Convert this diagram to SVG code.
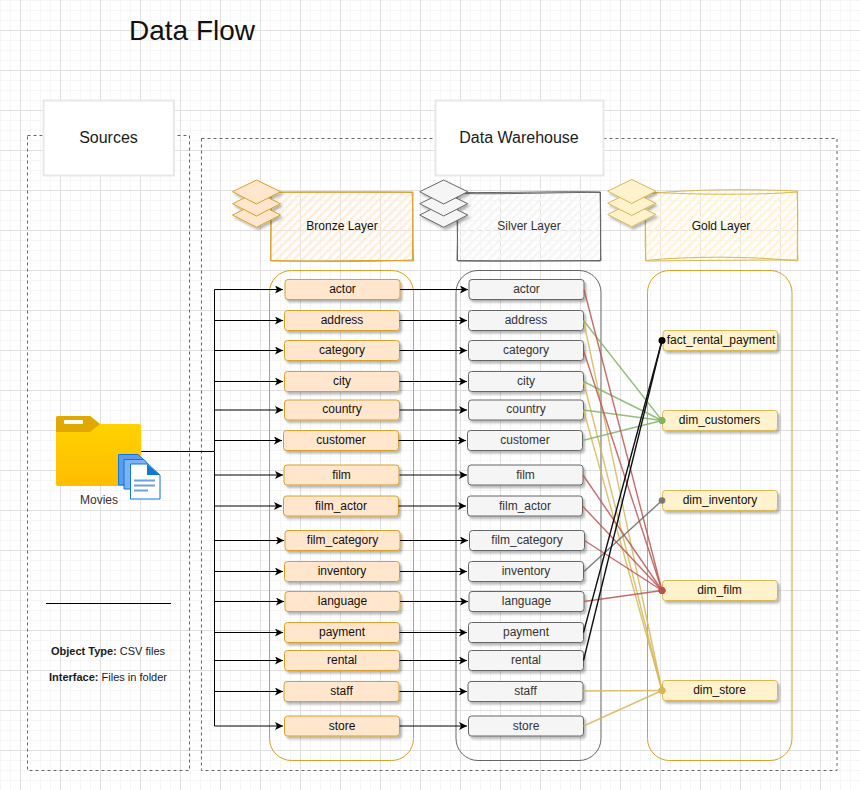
<svg xmlns="http://www.w3.org/2000/svg" width="860" height="790" viewBox="0 0 860 790">
<style>
text{font-family:"Liberation Sans",Arial,sans-serif;font-size:12px;text-anchor:middle;fill:#111}
.b rect{fill:#ffe6cc;stroke:#d6a02a;stroke-width:1}
.s rect{fill:#f5f5f5;stroke:#666;stroke-width:1}
.s text{fill:#333}
.g rect{fill:#fff2cc;stroke:#d6b656;stroke-width:1}
.cont{fill:none;stroke-width:1}
.dash{fill:none;stroke:#666;stroke-width:1;stroke-dasharray:3 3}
.title rect{fill:#fff;stroke:#e8e8e8;stroke-width:2}
.title text{font-size:16px;fill:#1a1a1a}
.flow path{fill:none;stroke:#000;stroke-width:1;marker-end:url(#arr)}
.link path{fill:none;stroke-width:1.4}
.r{stroke:#b85450;marker-end:url(#dr);opacity:.85}
.gr{stroke:#82b366;marker-end:url(#dg);opacity:.85}
.y{stroke:#d6b656;marker-end:url(#dy);opacity:.85}
.k{stroke:#111;marker-end:url(#dk)}
.n{stroke:#666;marker-end:url(#dn);opacity:.85}
</style>
<defs>
<pattern id="grid" width="40" height="40" patternUnits="userSpaceOnUse" x="-20" y="-10">
<path d="M0 10.5H40M0 20.5H40M0 30.5H40M10.5 0V40M20.5 0V40M30.5 0V40" stroke="#f6f6f6" stroke-width="1" fill="none"/>
<path d="M0 .5H40M.5 0V40" stroke="#e0e0e0" stroke-width="1" fill="none"/>
</pattern>
<pattern id="hb" width="6" height="6" patternUnits="userSpaceOnUse" patternTransform="rotate(45)"><rect width="2.4" height="6" fill="#ffe6cc" opacity=".75"/></pattern>
<pattern id="hs" width="6" height="6" patternUnits="userSpaceOnUse" patternTransform="rotate(45)"><rect width="2.4" height="6" fill="#f5f5f5"/></pattern>
<pattern id="hg" width="6" height="6" patternUnits="userSpaceOnUse" patternTransform="rotate(45)"><rect width="2.4" height="6" fill="#fff2cc" opacity=".85"/></pattern>
<filter id="sh" x="-15%" y="-25%" width="130%" height="160%"><feDropShadow dx="2" dy="2.5" stdDeviation="1.3" flood-color="#000" flood-opacity=".28"/></filter>
<marker id="arr" markerUnits="userSpaceOnUse" markerWidth="10" markerHeight="10" refX="8" refY="4" orient="auto"><path d="M0 0L8 4L0 8L2 4Z" fill="#000"/></marker>
<marker id="dr" markerUnits="userSpaceOnUse" markerWidth="8" markerHeight="8" refX="4" refY="4"><circle cx="4" cy="4" r="3.3" fill="#b85450"/></marker>
<marker id="dg" markerUnits="userSpaceOnUse" markerWidth="8" markerHeight="8" refX="4" refY="4"><circle cx="4" cy="4" r="3.3" fill="#82b366"/></marker>
<marker id="dy" markerUnits="userSpaceOnUse" markerWidth="8" markerHeight="8" refX="4" refY="4"><circle cx="4" cy="4" r="3.3" fill="#d6b656"/></marker>
<marker id="dk" markerUnits="userSpaceOnUse" markerWidth="8" markerHeight="8" refX="4" refY="4"><circle cx="4" cy="4" r="3.3" fill="#000"/></marker>
<marker id="dn" markerUnits="userSpaceOnUse" markerWidth="8" markerHeight="8" refX="4" refY="4"><circle cx="4" cy="4" r="3.3" fill="#666"/></marker>
<linearGradient id="fold" x1="0" y1="0" x2="0" y2="1"><stop offset="0" stop-color="#ffd500"/><stop offset="1" stop-color="#ffbd00"/></linearGradient>
</defs>
<rect width="860" height="790" fill="#fff"/>
<rect width="860" height="790" fill="url(#grid)"/>

<text x="192" y="40" style="font-size:28px">Data Flow</text>

<rect id="sources-area" class="dash" x="27.5" y="135.5" width="162" height="635"/>
<rect id="warehouse-area" class="dash" x="201.5" y="138.5" width="635.5" height="632"/>
<g id="sources-title" class="title"><rect x="43.5" y="100.5" width="130.5" height="75"/><text x="108.5" y="143">Sources</text></g>
<g id="warehouse-title" class="title"><rect x="435.5" y="100.5" width="168" height="75"/><text x="519" y="143">Data Warehouse</text></g>

<g id="bronze-layer">
<rect x="271" y="192" width="142" height="69" fill="url(#hb)"/>
<path d="M271 192.5C320 191 370 193 413 192C412.5 215 413 240 413.5 261C370 259.5 320 262 270.5 260.500C271.500 240 270.500 215 271 192.500Z" fill="none" stroke="#d6a02a" stroke-width="1"/>
<path d="M272 192C330 193 380 191 412 192.500C414 220 412 245 412.500 260C360 262.500 310 261 271 261C270 235 272 215 270.500 193" fill="none" stroke="#d6a02a" stroke-width="1"/>
<text x="342" y="229.500">Bronze Layer</text>
<g fill="#ffe6cc" stroke="#d6a02a" filter="url(#sh)">
<path d="M256.500 203L280.500 215L256.500 227.300L232.500 215Z"/>
<path d="M256.500 192L280.500 203.700L256.500 216L232.500 203.700Z"/>
<path d="M256.500 180L280.500 191.700L256.500 204L232.500 191.700Z"/>
</g></g>

<g id="silver-layer">
<rect x="457" y="192" width="143.500" height="69" fill="url(#hs)"/>
<path d="M457 192.500C510 193 560 191 600.500 192C600 215 601 240 600.500 261C550 260.500 500 261.500 457.500 261C458 240 456.500 215 457 192.500Z" fill="none" stroke="#666" stroke-width="1"/>
<path d="M458 193.500C510 194.500 570 192 600 192.500C601.500 220 600 245 601 260.500C540 261 500 261 457 260.500C457.500 235 458 215 457.500 193" fill="none" stroke="#666" stroke-width="1"/>
<text x="529" y="229.500" style="fill:#333">Silver Layer</text>
<g fill="#f5f5f5" stroke="#666" filter="url(#sh)">
<path d="M443.700 203L467.700 215L443.700 227.300L419.700 215Z"/>
<path d="M443.700 192L467.700 203.700L443.700 216L419.700 203.700Z"/>
<path d="M443.700 180L467.700 191.700L443.700 204L419.700 191.700Z"/>
</g></g>

<g id="gold-layer">
<rect x="645" y="191" width="152.500" height="70" fill="url(#hg)"/>
<path d="M645 194C690 189 750 189 797.500 191C798 215 797 240 797.500 261C750 256 690 256 645.500 260.500C646.500 240 644.500 215 645 194Z" fill="none" stroke="#d6b656" stroke-width="1"/>
<path d="M646 192C700 195 760 195 797 192C798.500 220 797 245 798 260C750 260 700 260.500 646 261C644 235 646.500 215 645 193" fill="none" stroke="#d6b656" stroke-width="1"/>
<text x="721" y="229.500">Gold Layer</text>
<g fill="#fff2cc" stroke="#d6b656" filter="url(#sh)">
<path d="M631.700 202.500L655.700 214.500L631.700 226.800L607.700 214.500Z"/>
<path d="M631.700 191.500L655.700 203.200L631.700 215.500L607.700 203.200Z"/>
<path d="M631.700 179.500L655.700 191.200L631.700 203.500L607.700 191.200Z"/>
</g></g>

<rect id="bronze-container" class="cont" x="269.500" y="270.500" width="144" height="490" rx="22" stroke="#d6a02a"/>
<rect id="silver-container" class="cont" x="456" y="270.500" width="145" height="490" rx="22" stroke="#666"/>
<rect id="gold-container" class="cont" x="647.500" y="270.500" width="144.500" height="490" rx="22" stroke="#d6a02a"/>

<line id="divider" x1="46" y1="603.500" x2="171" y2="603.500" stroke="#000"/>
<g id="source-info">
<text x="108" y="655" style="font-size:11px;fill:#1a1a1a"><tspan font-weight="bold">Object Type:</tspan> CSV files</text>
<text x="108" y="681" style="font-size:11px;fill:#1a1a1a"><tspan font-weight="bold">Interface:</tspan> Files in folder</text>
</g>

<g id="b-actor" class="b"><rect x="285" y="279.500" width="115" height="20" rx="3" filter="url(#sh)"/><text x="342.500" y="293">actor</text></g>
<g id="b-address" class="b"><rect x="284.500" y="310.500" width="115" height="20" rx="3" filter="url(#sh)"/><text x="342" y="324">address</text></g>
<g id="b-category" class="b"><rect x="284.500" y="340.500" width="115" height="20" rx="3" filter="url(#sh)"/><text x="342" y="354">category</text></g>
<g id="b-city" class="b"><rect x="284.500" y="371.500" width="115" height="20" rx="3" filter="url(#sh)"/><text x="342" y="385">city</text></g>
<g id="b-country" class="b"><rect x="284.500" y="400" width="115" height="20" rx="3" filter="url(#sh)"/><text x="342" y="413">country</text></g>
<g id="b-customer" class="b"><rect x="283.500" y="430.500" width="115" height="20" rx="3" filter="url(#sh)"/><text x="341" y="444">customer</text></g>
<g id="b-film" class="b"><rect x="284" y="465" width="115" height="20" rx="3" filter="url(#sh)"/><text x="341.500" y="478.500">film</text></g>
<g id="b-film_actor" class="b"><rect x="283.500" y="496" width="115" height="20" rx="3" filter="url(#sh)"/><text x="341" y="509.500">film_actor</text></g>
<g id="b-film_category" class="b"><rect x="285" y="530.500" width="115" height="20" rx="3" filter="url(#sh)"/><text x="342.500" y="544">film_category</text></g>
<g id="b-inventory" class="b"><rect x="284.500" y="561.500" width="115" height="20" rx="3" filter="url(#sh)"/><text x="342" y="575">inventory</text></g>
<g id="b-language" class="b"><rect x="285" y="591.500" width="115" height="20" rx="3" filter="url(#sh)"/><text x="342.500" y="605">language</text></g>
<g id="b-payment" class="b"><rect x="284.500" y="622.500" width="115" height="20" rx="3" filter="url(#sh)"/><text x="342" y="636">payment</text></g>
<g id="b-rental" class="b"><rect x="284.500" y="650.500" width="115" height="20" rx="3" filter="url(#sh)"/><text x="342" y="664">rental</text></g>
<g id="b-staff" class="b"><rect x="284" y="681.500" width="115" height="20" rx="3" filter="url(#sh)"/><text x="341.500" y="695">staff</text></g>
<g id="b-store" class="b"><rect x="284.500" y="716" width="115" height="20" rx="3" filter="url(#sh)"/><text x="342" y="729.500">store</text></g>

<g id="s-actor" class="s"><rect x="469" y="279.500" width="115" height="20" rx="3" filter="url(#sh)"/><text x="526.500" y="293">actor</text></g>
<g id="s-address" class="s"><rect x="468.500" y="310.500" width="115" height="20" rx="3" filter="url(#sh)"/><text x="526" y="324">address</text></g>
<g id="s-category" class="s"><rect x="468.500" y="340.500" width="115" height="20" rx="3" filter="url(#sh)"/><text x="526" y="354">category</text></g>
<g id="s-city" class="s"><rect x="468.500" y="371.500" width="115" height="20" rx="3" filter="url(#sh)"/><text x="526" y="385">city</text></g>
<g id="s-country" class="s"><rect x="468.500" y="400" width="115" height="20" rx="3" filter="url(#sh)"/><text x="526" y="413">country</text></g>
<g id="s-customer" class="s"><rect x="467.500" y="430.500" width="115" height="20" rx="3" filter="url(#sh)"/><text x="525" y="444">customer</text></g>
<g id="s-film" class="s"><rect x="468" y="465" width="115" height="20" rx="3" filter="url(#sh)"/><text x="525.500" y="478.500">film</text></g>
<g id="s-film_actor" class="s"><rect x="467.500" y="496" width="115" height="20" rx="3" filter="url(#sh)"/><text x="525" y="509.500">film_actor</text></g>
<g id="s-film_category" class="s"><rect x="469.500" y="530.500" width="115" height="20" rx="3" filter="url(#sh)"/><text x="527" y="544">film_category</text></g>
<g id="s-inventory" class="s"><rect x="468.500" y="561.500" width="115" height="20" rx="3" filter="url(#sh)"/><text x="526" y="575">inventory</text></g>
<g id="s-language" class="s"><rect x="469" y="591.500" width="115" height="20" rx="3" filter="url(#sh)"/><text x="526.500" y="605">language</text></g>
<g id="s-payment" class="s"><rect x="468.500" y="622.500" width="115" height="20" rx="3" filter="url(#sh)"/><text x="526" y="636">payment</text></g>
<g id="s-rental" class="s"><rect x="468.500" y="650.500" width="115" height="20" rx="3" filter="url(#sh)"/><text x="526" y="664">rental</text></g>
<g id="s-staff" class="s"><rect x="468" y="681.500" width="115" height="20" rx="3" filter="url(#sh)"/><text x="525.500" y="695">staff</text></g>
<g id="s-store" class="s"><rect x="468.500" y="716" width="115" height="20" rx="3" filter="url(#sh)"/><text x="526" y="729.500">store</text></g>

<g id="g-fact_rental_payment" class="g"><rect x="663" y="330.500" width="114.500" height="20" rx="3" filter="url(#sh)"/><text x="721" y="344">fact_rental_payment</text></g>
<g id="g-dim_customers" class="g"><rect x="662.500" y="410.500" width="115" height="20" rx="3" filter="url(#sh)"/><text x="719.500" y="424">dim_customers</text></g>
<g id="g-dim_inventory" class="g"><rect x="662.500" y="490.500" width="115" height="20" rx="3" filter="url(#sh)"/><text x="720" y="504">dim_inventory</text></g>
<g id="g-dim_film" class="g"><rect x="662.500" y="580.500" width="115" height="20" rx="3" filter="url(#sh)"/><text x="719.500" y="594">dim_film</text></g>
<g id="g-dim_store" class="g"><rect x="662.500" y="680.500" width="115" height="20" rx="3" filter="url(#sh)"/><text x="719.500" y="694">dim_store</text></g>

<g id="connectors">
<g class="flow">
<path d="M141 451.500H214.500V289.500H283"/>
<path d="M214.500 320.500H283"/>
<path d="M214.500 350.500H283"/>
<path d="M214.500 381.500H283"/>
<path d="M214.500 410H283"/>
<path d="M214.500 440.500H282"/>
<path d="M214.500 475H283"/>
<path d="M214.500 506H282"/>
<path d="M214.500 540.500H284"/>
<path d="M214.500 571.500H283"/>
<path d="M214.500 601.500H284"/>
<path d="M214.500 632.500H283"/>
<path d="M214.500 660.500H283"/>
<path d="M214.500 691.500H283"/>
<path d="M214.500 451.500V726H283"/>
<path d="M400 289.500H468"/>
<path d="M399.500 320.500H467"/>
<path d="M399.500 350.500H467"/>
<path d="M399.500 381.500H467"/>
<path d="M399.500 410H467"/>
<path d="M398.500 440.500H466"/>
<path d="M399.500 475H467"/>
<path d="M398.500 506H466"/>
<path d="M400 540.500H468"/>
<path d="M400 571.500H467"/>
<path d="M400 601.500H468"/>
<path d="M399.500 632.500H467"/>
<path d="M399.500 660.500H467"/>
<path d="M399.500 691.500H467"/>
<path d="M399.500 726H467"/>
</g>
<g class="link">
<path class="y" d="M583.500 320.500L662 690.500"/>
<path class="y" d="M583.500 381.500L662 690.500"/>
<path class="y" d="M583.500 410L662 690.500"/>
<path class="y" d="M583 691L662 690.500"/>
<path class="y" d="M583.500 726L662 690.500"/>
<path class="gr" d="M583.500 320.500L662 420.500"/>
<path class="gr" d="M583.500 381.500L662 420.500"/>
<path class="gr" d="M583.500 410L662 420.500"/>
<path class="gr" d="M582.500 440.500L662 420.500"/>
<path class="r" d="M584 289.500L662 590.500"/>
<path class="r" d="M583.500 350.500L662 590.500"/>
<path class="r" d="M583 475L662 590.500"/>
<path class="r" d="M582.500 506L662 590.500"/>
<path class="r" d="M584.500 540.500L662 590.500"/>
<path class="r" d="M584 601.500L662 590.500"/>
<path class="n" d="M584 571.500L662 500.500"/>
<path class="k" d="M583.500 632.500L662 340.500"/>
<path class="k" d="M583.500 660.500L662 340.500"/>
</g>
</g>

<g id="movies">
<path d="M56 418Q56 416 58 416H90L100 424H139Q141.300 424 141.300 426V484Q141.300 486 139 486H58Q56 486 56 484Z" fill="url(#fold)"/>
<path d="M56 418Q56 416 58 416H90L100 424L90 432H56Z" fill="#e0a800"/>
<rect x="64" y="420" width="19" height="4" rx="1" fill="#fff"/>
<path d="M118.500 454.500H138L145 461V485H118.500Z" fill="#5a9cf0" stroke="#0f78d4"/>
<path d="M124 459.500H144L150 466V489H124Z" fill="#7fb2f5" stroke="#0f78d4"/>
<path d="M130.500 464H148L160 475V499H130.500Z" fill="#fff" stroke="#0f78d4"/>
<path d="M147 464L160 475H147Z" fill="#0f78d4"/>
<path d="M134 480.500H155M134 485.500H155M134 490.500H148" stroke="#6f9fdc" stroke-width="2" fill="none"/>
<text x="99" y="504" style="fill:#333">Movies</text>
</g>
</svg>
